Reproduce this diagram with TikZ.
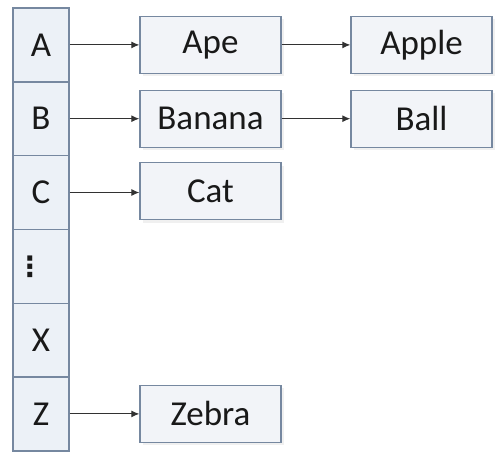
\documentclass[tikz,border=0pt]{standalone}
\usepackage{fontspec}
\setmainfont{Carlito}
\newfontfamily\symfont{DejaVu Sans Bold}
\usetikzlibrary{arrows.meta,shadows}
\definecolor{bordercol}{RGB}{118,136,160}
\definecolor{cellfill}{RGB}{236,241,247}
\definecolor{boxfill}{RGB}{242,244,248}
\definecolor{arrowcol}{RGB}{50,50,50}
\definecolor{txtcol}{RGB}{25,25,25}
\tikzset{
  cellbox/.style={draw=bordercol, fill=cellfill, line width=1.4pt, minimum width=56pt, minimum height=73.8pt, inner sep=0pt, text=txtcol, font=\fontsize{35}{40}\selectfont},
  wordbox/.style={draw=bordercol, fill=boxfill, line width=1.4pt, minimum width=141pt, minimum height=57pt, inner sep=0pt, text=txtcol, font=\fontsize{35}{40}\selectfont, drop shadow={opacity=0.12, shadow xshift=3pt, shadow yshift=-3pt}},
  arr/.style={draw=arrowcol, line width=1pt, -{Latex[length=8pt,width=7pt]}}
}
\begin{document}
\begin{tikzpicture}[x=1pt,y=-1pt]
\useasboundingbox (0,0) rectangle (495,459);
\node[cellbox] (A) at (41,44.9) {A};
\node[cellbox] (B) at (41,118.7) {B};
\node[cellbox] (C) at (41,192.5) {C};
\node[cellbox] (D) at (41,266.3) {\makebox[0pt][c]{\kern-22pt\symfont\fontsize{28}{34}\selectfont ⋮}};
\node[cellbox] (X) at (41,340.1) {X};
\node[cellbox] (Z) at (41,413.9) {Z};
\node[wordbox] (Ape) at (210.5,44.9) {Ape};
\node[wordbox] (Banana) at (210.5,118.7) {Banana};
\node[wordbox] (Cat) at (210.5,191) {Cat};
\node[wordbox] (Zebra) at (210.5,413.9) {Zebra};
\node[wordbox] (Apple) at (421.5,44.9) {Apple};
\node[wordbox] (Ball) at (421.5,118.7) {Ball};
\draw[arr] (A.east) -- (A.east -| Ape.west);
\draw[arr] (B.east) -- (B.east -| Banana.west);
\draw[arr] (C.east) -- (C.east -| Cat.west);
\draw[arr] (Z.east) -- (Z.east -| Zebra.west);
\draw[arr] (Ape) -- (Apple);
\draw[arr] (Banana) -- (Ball);
\end{tikzpicture}
\end{document}
